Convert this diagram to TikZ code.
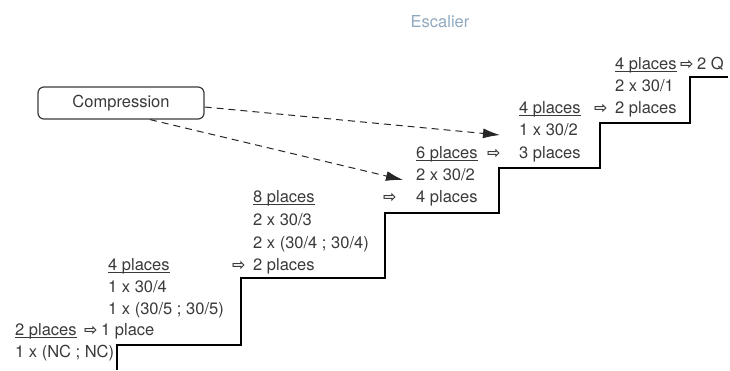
\documentclass[tikz,border=0pt]{standalone}
\usepackage{fontspec}
\setmainfont{TeX Gyre Heros}
\newfontfamily\arrowfont{DejaVu Sans}
\usetikzlibrary{arrows.meta}
\definecolor{ink}{HTML}{3A3A3A}
\definecolor{steel}{HTML}{8FA9C0}
\newcommand{\plc}[1]{\setbox0\hbox{#1 places}\rlap{\rule[-2.6pt]{\wd0}{0.8pt}}\box0}
\newcommand{\ra}{{\arrowfont\bfseries\fontsize{16}{16}\selectfont ⇨}}

\begin{document}
\begin{tikzpicture}[x=1pt,y=-1pt,font=\fontsize{16.5}{20}\selectfont,
  txt/.style={anchor=base west,inner sep=0pt,text=ink},
  cut/.style={draw=black!85,dash pattern=on 7pt off 5pt,line width=1pt,-{Latex[length=17pt,width=10pt]}}]
\useasboundingbox (0,0) rectangle (730,370);
\node[text=steel] (title) at (440,22) {Escalier};
% staircase
\draw[line width=1.2pt] (117,370)--(117,345)--(241,345)--(241,278)--(385,278)--(385,213)
  --(499,213)--(499,168)--(600,168)--(600,123)--(690,123)--(690,77)--(728,77);
% step 1
\node[txt] (s1a) at (15,335) {\plc{2}};
\node[txt] (s1b) at (84,335) {\ra};
\node[txt] (s1c) at (101,335) {1 place};
\node[txt] (s1d) at (15,357) {1 x (NC ; NC)};
% step 2
\node[txt] (s2a) at (108,270) {\plc{4}};
\node[txt] (s2b) at (232,270) {\ra};
\node[txt] (s2c) at (253,270) {2 places};
\node[txt] (s2d) at (108,292) {1 x 30/4};
\node[txt] (s2e) at (108,314) {1 x (30/5 ; 30/5)};
% step 3
\node[txt] (s3a) at (253,202) {\plc{8}};
\node[txt] (s3b) at (383,202) {\ra};
\node[txt] (s3c) at (416,202) {4 places};
\node[txt] (s3d) at (253,225) {2 x 30/3};
\node[txt] (s3e) at (253,248) {2 x (30/4 ; 30/4)};
% step 4
\node[txt] (s4a) at (416,158) {\plc{6}};
\node[txt] (s4b) at (487,158) {\ra};
\node[txt] (s4c) at (519,158) {3 places};
\node[txt] (s4d) at (416,180) {2 x 30/2};
% step 5
\node[txt] (s5a) at (519,113) {\plc{4}};
\node[txt] (s5b) at (594,113) {\ra};
\node[txt] (s5c) at (615,113) {2 places};
\node[txt] (s5d) at (519,135) {1 x 30/2};
% step 6
\node[txt] (s6a) at (615,69) {\plc{4}};
\node[txt] (s6b) at (680,69) {\ra};
\node[txt] (s6c) at (697,69) {2 Q};
\node[txt] (s6d) at (615,91) {2 x 30/1};
% compression
\node[draw=ink,line width=1.2pt,rounded corners=6pt,text=ink,minimum width=166pt,minimum height=32pt,inner sep=0pt] (comp) at (121,103) {Compression};
\coordinate (tipA) at (500,135);
\coordinate (tipB) at (403,180);
\draw[cut] (comp.east) ++(0,4) -- (tipA);
\draw[cut] (comp.south) ++(29,0) -- (tipB);
\end{tikzpicture}
\end{document}
